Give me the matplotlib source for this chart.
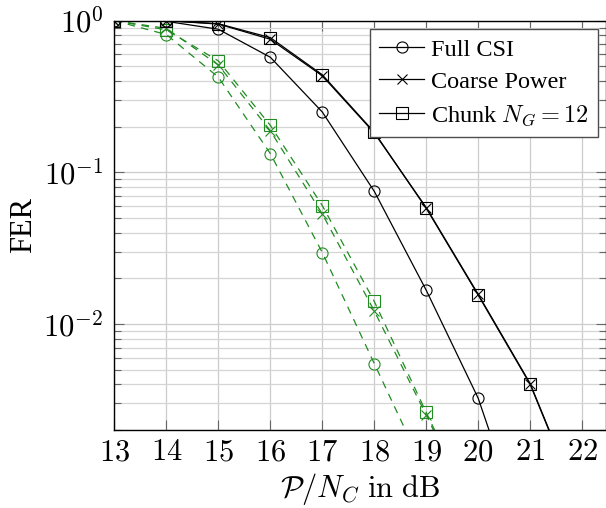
import numpy as np
import matplotlib
matplotlib.use('Agg')
import matplotlib.pyplot as plt
from matplotlib.ticker import FixedLocator, NullFormatter

plt.rcParams['font.family'] = ['Liberation Serif', 'DejaVu Serif']
plt.rcParams['mathtext.fontset'] = 'cm'

snr = [13, 14, 15, 16, 17, 18, 19, 20, 21, 22]

# solid black curves
full_csi = [1.0, 0.99, 0.878, 0.574, 0.25, 0.075, 0.0167, 0.00324, 0.00032, 3e-5]
coarse = [1.0, 1.0, 0.95, 0.754, 0.433, 0.182, 0.0586, 0.0157, 0.00405, 0.00059]
chunk = [1.0, 1.0, 0.955, 0.773, 0.44, 0.184, 0.058, 0.0155, 0.0040, 0.00058]

# dashed green curves
full_csi_g = [1.0, 0.81, 0.424, 0.133, 0.0296, 0.00549, 0.00102, 1.9e-4, 3.5e-5, 6e-6]
coarse_g = [1.0, 0.89, 0.51, 0.188, 0.0532, 0.0122, 0.00251, 4.8e-4, 9e-5, 2e-5]
chunk_g = [1.0, 0.87, 0.543, 0.204, 0.0604, 0.0141, 0.00261, 5e-4, 9.5e-5, 2e-5]

xticks = [13, 14, 15, 16, 17, 18, 19, 20, 21, 22]
yticks = [1e-2, 1e-1, 1e0]
ytick_labels = ['$10^{-2}$', '$10^{-1}$', '$10^{0}$']

green = (0.13, 0.55, 0.13)
fs = 22
lw = 0.9

fig = plt.figure(figsize=(6.06, 5.08), dpi=100)
ax = fig.add_axes([0.1888, 0.1535, 0.8104, 0.8058])

mk = dict(markerfacecolor='none', linewidth=lw, markeredgewidth=0.8)

ax.plot(snr, full_csi_g, color=green, linestyle=(0, (6, 5)), marker='o', markersize=8, **mk)
ax.plot(snr, coarse_g, color=green, linestyle=(0, (6, 5)), marker='x', markersize=7, **mk)
ax.plot(snr, chunk_g, color=green, linestyle=(0, (6, 5)), marker='s', markersize=8, **mk)

l1, = ax.plot(snr, full_csi, color='k', marker='o', markersize=8, **mk)
l2, = ax.plot(snr, coarse, color='k', marker='x', markersize=7, **mk)
l3, = ax.plot(snr, chunk, color='k', marker='s', markersize=8, **mk)

ax.set_yscale('log')
ax.set_xlim(13, 22.45)
ax.set_ylim(2e-3, 1.0)

ax.xaxis.set_major_locator(FixedLocator(xticks))
ax.set_xticklabels([f'${v}$' for v in xticks], fontsize=fs)
ax.yaxis.set_major_locator(FixedLocator(yticks))
ax.set_yticklabels(ytick_labels, fontsize=fs)
minor = [m * 10.0 ** e for e in (-3, -2, -1) for m in range(2, 10)]
ax.yaxis.set_minor_locator(FixedLocator(minor))
ax.yaxis.set_minor_formatter(NullFormatter())

ax.grid(True, which='major', color='#cccccc', linewidth=0.9)
ax.grid(True, which='minor', axis='y', color='#d5d5d5', linewidth=0.9)
ax.set_axisbelow(True)

ax.tick_params(which='major', direction='in', length=7, width=0.8, color='0.4',
               top=True, right=True, pad=8)
ax.tick_params(axis='x', which='major', pad=6)
ax.tick_params(which='minor', direction='in', length=5, width=0.8, color='0.4',
               top=True, right=True)
for s in ax.spines.values():
    s.set_linewidth(1.0)

ax.set_xlabel(r'$\mathcal{P}/N_C\ \mathrm{in\ dB}$', fontsize=fs)
ax.xaxis.set_label_coords(0.5, -0.1)
ax.set_ylabel('FER', fontsize=fs, labelpad=4)

leg = ax.legend([l1, l2, l3], ['Full CSI', 'Coarse Power', r'Chunk $N_G = 12$'],
                loc='upper right', bbox_to_anchor=(0.9847, 0.9797), borderaxespad=0,
                fontsize=17.5, fancybox=False, edgecolor='0.3', framealpha=1,
                handlelength=1.85, handletextpad=0.25, labelspacing=0.42,
                borderpad=0.4)
leg.get_frame().set_linewidth(1.0)

fig.savefig('out.png', dpi=100)
